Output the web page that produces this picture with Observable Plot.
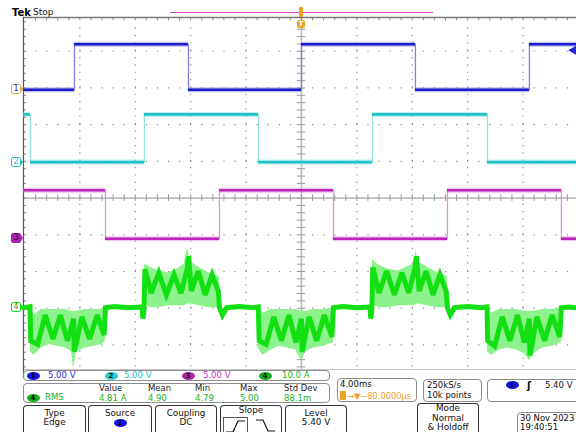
<!DOCTYPE html>
<html><head><meta charset="utf-8">
<script src="https://cdn.jsdelivr.net/npm/d3@7"></script>
<script src="https://cdn.jsdelivr.net/npm/@observablehq/plot@0.6"></script>
<style>
body{margin:0;background:#fff;}
#wrap{position:relative;width:576px;height:432px;overflow:hidden;font-family:"DejaVu Sans",sans-serif;background:#fff;}
#wrap svg{position:absolute;left:0;top:0;}
.t{position:absolute;white-space:nowrap;line-height:9px;}
.box{position:absolute;border:1px solid #8c8c8c;border-radius:4px;box-sizing:border-box;}
.btn{position:absolute;border:1.5px solid #333;border-bottom:none;border-radius:4px 4px 0 0;box-sizing:border-box;}
.pill{position:absolute;width:13px;height:8px;border-radius:50%;font-size:7px;line-height:8px;text-align:center;color:#000;font-weight:bold;}
.mk{position:absolute;width:10px;height:10px;box-sizing:border-box;font-size:8px;line-height:8px;text-align:center;border-radius:2px;}
</style></head><body><div id="wrap"></div>
<script>
// ---------- data (time in ms, volts / amps) ----------
const edges1 = [-20.07, -16.39, -8.16, 0.00, 8.23, 16.46, 19.86];
const volts1 = [0, 6.2, 0, 6.2, 0, 6.2];
const edges2 = [-20.07, -19.57, -11.34, -3.10, 5.13, 13.43, 19.86];
const volts2 = [6.5, 0, 6.5, 0, 6.5, 0];
const edges3 = [-20.07, -14.15, -5.92, 2.31, 10.54, 18.77, 19.86];
const volts3 = [6.6, 0, 6.6, 0, 6.6, 0];

const ch4Time = [-20.07,-19.6,
 -19.55,-19.05,-18.5,-17.95,-17.4,-16.9,-16.45,-16.4,-15.85,-15.3,-14.75,-14.25,-14.15,
 -13.5,-12.5,-11.5,-11.45,-11.38,
 -11.3,-10.85,-10.3,-9.75,-9.2,-8.7,-8.25,-8.15,-7.95,-7.45,-6.95,-6.45,-6.0,-5.92,-5.7,-5.4,
 -4.5,-3.5,-3.12,
 -3.05,-2.55,-2.0,-1.45,-0.9,-0.4,0.0,0.05,0.55,1.1,1.65,2.2,2.31,
 3.0,4.0,4.95,5.0,5.08,
 5.15,5.6,6.15,6.7,7.25,7.75,8.2,8.3,8.5,9.0,9.5,10.0,10.45,10.54,10.75,11.05,
 12.0,13.0,13.4,
 13.45,13.95,14.5,15.05,15.6,16.1,16.45,16.5,17.0,17.55,18.1,18.65,18.77,
 19.3,19.86];
const ch4Amps = [0,0.3,
 -9,-10,-2,-8.5,-2,-9,-3,-12,-2.5,-8.5,-2,-7.5,0,
 0.3,0,0.2,-3,-1,
 10.5,4,9.5,3.5,9,4,10.5,14,4.5,10,3.5,9,4.5,0,-2,0,
 0.3,0,0.2,
 -9,-10,-2.5,-9,-2,-9.5,-3,-12,-2.5,-9,-2,-8,0,
 0.3,0,0.2,-3,-1,
 11,4,10,3.5,9.5,4,11,14,4.5,10,3.5,9,4.5,0,-2,0,
 0.3,0,0.2,
 -9,-10.5,-2.5,-9,-2,-9.5,-3,-13,-2.5,-9,-2,-8,0,
 0.2,0];

const bandSeg  = [1,1,1,1,1,1,1,1,1,1,1,1,1, 2,2,2,2,2,2,2,2,2,2,2, 3,3,3,3,3,3,3,3,3,3,3, 4,4,4,4,4,4,4,4,4,4,4, 5,5,5,5,5,5,5,5,5,5,5];
const bandTime = [-19.57,-19.3,-18.8,-18.2,-17.6,-17.0,-16.6,-16.45,-16.25,-15.6,-15.0,-14.4,-14.15,
 -11.34,-10.9,-10.3,-9.6,-9.0,-8.45,-8.23,-8.0,-7.4,-6.7,-5.92,
 -3.10,-2.8,-2.2,-1.6,-1.0,-0.4,0.0,0.3,0.9,1.6,2.31,
 5.13,5.6,6.3,7.0,7.6,8.1,8.25,8.45,9.1,9.8,10.54,
 13.43,13.7,14.3,14.9,15.5,16.1,16.46,16.8,17.4,18.1,18.77];
const bandLo = [-12,-13,-11,-10,-10.5,-11,-12,-16.8,-12,-11,-10.5,-10,-9,
 1,0,0,0.5,0.5,0.5,1,1,0.5,0,0,
 -11,-13,-11.5,-10.5,-11,-11.5,-14.5,-12,-11,-10.5,-9.5,
 1,0,0,0.5,0.5,0.5,1,1,0.5,0,0,
 -12,-13,-11.5,-11,-11.5,-12.5,-14.5,-12.5,-11,-10.5,-9.5];
const bandHi = [0,-2,-0.5,-0.5,-0.5,-0.5,-1,-1,-1,-0.5,-0.5,-0.5,0,
 12,11,10,9.5,10.5,12,16.4,12.5,11,9.5,8.5,
 0,-1.5,-0.5,-0.5,-0.5,-0.5,-1,-1,-0.5,-0.5,0,
 13,11.5,10.5,10,11,12,15.5,12.5,11,9.5,8.5,
 0,-1.5,-0.5,-0.5,-0.5,-1,-1,-1,-0.5,-0.5,0];

const triggerLevel = 5.40;

// ---------- scope settings ----------
const off = {1: 2.95, 2: 0.98, 3: -1.106, 4: -2.986}; // divisions
const perDiv = {1: 5, 2: 5, 3: 5, 4: 10};
const col = {1: "#1c1cc8", 2: "#20c0c4", 3: "#bc22bc", 4: "#12e012"};
const light = {1: "#8080e8", 2: "#90e4e4", 3: "#e090e0", 4: "#8cf28c"};

const T0 = -20.07, T1 = 19.86, YB = -4.67, YT = 4.92;

function steps(edges, levels){const p = levels.map((v,i)=>({t:edges[i], v})); p.push({t:edges[edges.length-1], v:levels[levels.length-1]}); return p;}
function segs(edges, levels){return levels.map((v,i)=>({t1:edges[i], t2:edges[i+1], v}));}

const minorT = d3.range(-24, 25).map(i => i*0.8);
const majorT = [-16,-12,-8,-4,4,8,12,16];
const minorDiv = d3.range(-23, 25).map(i => +(i*0.2).toFixed(2));
const majorDiv = [-4,-3,-2,-1,1,2,3,4];

const ch4Pts = ch4Time.map((t,i)=>({t, a:ch4Amps[i]}));
const band = bandTime.map((t,i)=>({t, lo:bandLo[i], hi:bandHi[i], seg:bandSeg[i]}));

function sqMarks(c, edges, levels){
  const y = d => off[c] + d.v/perDiv[c];
  return [
    Plot.line(steps(edges, levels), {x:"t", y, curve:"step-after", stroke:light[c], strokeWidth:1.3}),
    Plot.ruleY(segs(edges, levels), {x1:"t1", x2:"t2", y, stroke:light[c], strokeWidth:5, strokeOpacity:0.5}),
    Plot.ruleY(segs(edges, levels), {x1:"t1", x2:"t2", y, stroke:col[c], strokeWidth:2.6})
  ];
}

const chart = Plot.plot({
  width:576, height:432, marginTop:17, marginBottom:63, marginLeft:23, marginRight:0,
  x:{domain:[T0, T1], axis:null},
  y:{domain:[YB, YT], axis:null},
  style:{background:"transparent", overflow:"visible"},
  marks:[
    Plot.ruleX(majorT, {y1:-4.6, y2:4.8, stroke:"#8a8a8a", strokeWidth:1.2, strokeDasharray:"1.2,6.14"}),
    Plot.ruleY(majorDiv, {x1:-19.2, x2:T1, stroke:"#8a8a8a", strokeWidth:1.2, strokeDasharray:"1.2,9.88"}),
    Plot.ruleY([0], {x1:T0, x2:T1, stroke:"#bdbdbd", strokeWidth:1.6}),
    Plot.ruleX([0], {y1:YB, y2:YT, stroke:"#bdbdbd", strokeWidth:1.6}),
    Plot.ruleX(minorT, {y1:-0.09, y2:0.09, stroke:"#9a9a9a"}),
    Plot.ruleY(minorDiv, {x1:-0.3, x2:0.3, stroke:"#9a9a9a"}),
    Plot.ruleX(minorT, {y1:YT, y2:YT-0.09, stroke:"#8a8a8a"}),
    Plot.ruleY(minorDiv, {x1:T0, x2:T0+0.22, stroke:"#8a8a8a"}),
    Plot.ruleY([YB], {x1:T0, x2:T1, stroke:"#c8c8c8"}),
    Plot.ruleY([YT], {x1:T0, x2:T1, stroke:"#777", strokeWidth:1.5}),
    Plot.ruleX([T0], {y1:-4.9, y2:YT, stroke:"#555", strokeWidth:1.2}),
    Plot.areaY(band, {x:"t", y1:d=>off[4]+d.lo/10, y2:d=>off[4]+d.hi/10, z:"seg", fill:light[4]}),
    Plot.line(ch4Pts, {x:"t", y:d=>off[4]+d.a/10, stroke:col[4], strokeWidth:5, strokeLinejoin:"miter", strokeMiterlimit:3}),
    ...sqMarks(3, edges3, volts3),
    ...sqMarks(2, edges2, volts2),
    ...sqMarks(1, edges1, volts1),
    Plot.dot([triggerLevel], {x:()=>T1, y:v=>off[1]+v/perDiv[1], symbol:"triangle", r:3.4, rotate:-90, fill:"#2424d8", dx:-3})
  ]
});
const wrap = document.getElementById("wrap");
wrap.appendChild(chart);
const X = chart.scale("x"), Y = chart.scale("y");

function el(cls, x, y, w, h, style){const d=document.createElement("div"); d.className=cls; d.style.left=x+"px"; d.style.top=y+"px"; if(w!=null) d.style.width=w+"px"; if(h!=null) d.style.height=h+"px"; if(style) Object.assign(d.style, style); wrap.appendChild(d); return d;}
function txt(s, x, yc, o={}){const d=el("t", x, yc-4.5, o.w, null, {fontSize:(o.size||8.5)+"px", color:o.color||"#111", fontWeight:o.bold?"bold":"normal", textAlign:o.w?"center":"left"}); d.textContent=s; return d;}
function pill(n, cx, cy, c){const d=el("pill", cx-6.5, cy-4, null, null, {background:c}); d.textContent=n; return d;}

// top bar
txt("Tek", 12, 12, {size:10, bold:true, color:"#000"});
txt("Stop", 33, 12, {size:9, color:"#111"});
el("", 170, 11.5, 263, 1.5, {position:"absolute", background:"#d044d0"});
const xt = X.apply(0);
el("", xt-2, 7, 4, 10, {position:"absolute", background:"#f0a020", borderRadius:"1px"});
const tb = el("", xt-4, 20, 8, 8, {position:"absolute", background:"#f0a020", borderRadius:"2px", color:"#fff", fontSize:"7px", lineHeight:"8px", textAlign:"center", fontWeight:"bold"}); tb.textContent="T";

// channel markers
function marker(c, st){
  const y = Y.apply(off[c]);
  const d = el("mk", 11, y-5, null, null, st); d.textContent = c;
  el("", 21, y-3, 0, 0, {position:"absolute", borderLeft:"2px solid "+(st.borderColor||st.background), borderTop:"3px solid transparent", borderBottom:"3px solid transparent"});
}
marker(1, {border:"1px solid #d0b040", color:col[1], borderColor:"#d0b040"});
marker(2, {border:"1px solid "+col[2], color:col[2], borderColor:col[2]});
marker(3, {background:"#b020b0", color:"#2a002a", border:"1px solid #b020b0", borderColor:"#b020b0"});
marker(4, {border:"1px solid "+col[4], color:"#10a010", borderColor:col[4]});

// status row 1
el("box", 23, 370, 307, 11);
pill("1", 33, 375.5, "#1414e0"); txt("5.00 V", 48, 375.5, {color:"#3030e0"});
pill("2", 111, 375.5, "#20d0d0"); txt("5.00 V", 124, 375.5, {color:"#20c0c8"});
pill("3", 188, 375.5, "#b020b0"); txt("5.00 V", 203, 375.5, {color:"#c030c0"});
pill("4", 265, 375.5, "#10b010"); txt("10.0 A", 282, 375.5, {color:"#20b020"});
// measurements
el("box", 23, 383, 307, 20);
pill("4", 33, 397.5, "#10b010"); txt("RMS", 45, 397.5, {color:"#20b020"});
const heads = ["Value","Mean","Min","Max","Std Dev"], vals = ["4.81 A","4.90","4.79","5.00","88.1m"], hx = [99,148,195,240,284];
heads.forEach((h,i)=>{txt(h, hx[i], 388.5, {color:"#222"}); txt(vals[i], hx[i], 398, {color:"#20b020"});});
// timebase
el("box", 337, 378, 80, 24);
txt("4.00ms", 340, 384.5, {color:"#111"});
el("", 340, 391, 6, 9, {position:"absolute", background:"#f0a020", borderRadius:"1px"});
txt("→▼−80.0000µs", 347, 396, {color:"#f0a020", size:8.3});
el("box", 423, 379, 59, 23);
txt("250kS/s", 427, 385, {color:"#111"});
txt("10k points", 427, 395, {color:"#111"});
el("box", 487, 379, 95, 23);
pill("1", 512, 385, "#1414e0");
txt("ʃ", 527, 385, {size:10, color:"#111", bold:true});
txt("5.40 V", 545, 385, {color:"#111"});

// bottom buttons
function btn(x, w, top, lines){el("btn", x, top, w, 40); lines.forEach(([s, yc])=>txt(s, x, yc, {w, size:8.8, color:"#111"}));}
btn(23, 63, 405, [["Type",413.5],["Edge",422]]);
btn(88, 64, 405, [["Source",413.5]]); pill("1", 120, 423, "#1414e0");
btn(155, 62, 405, [["Coupling",413.5],["DC",422]]);
btn(220, 62, 405, [["Slope",410.5]]);
const sl = el("", 223, 417, 25, 20, {position:"absolute", border:"1px solid #555", boxSizing:"border-box"});
sl.innerHTML = '<svg width="23" height="18"><polyline points="2,14 9,14 14,3 21,3" fill="none" stroke="#111" stroke-width="1.2"/></svg>';
const sr = el("", 254, 417, 25, 20, {position:"absolute"});
sr.innerHTML = '<svg width="23" height="18"><polyline points="2,3 9,3 14,14 21,14" fill="none" stroke="#111" stroke-width="1.2"/></svg>';
btn(285, 62, 405, [["Level",413.5],["5.40 V",422.5]]);
btn(417, 62, 403, [["Mode",408.5],["Normal",418],["& Holdoff",427.5]]);
el("box", 517, 412, 70, 30);
txt("30 Nov 2023", 520, 418, {size:8.5, color:"#111"});
txt("19:40:51", 520, 427, {size:8.5, color:"#111"});
</script></body></html>
